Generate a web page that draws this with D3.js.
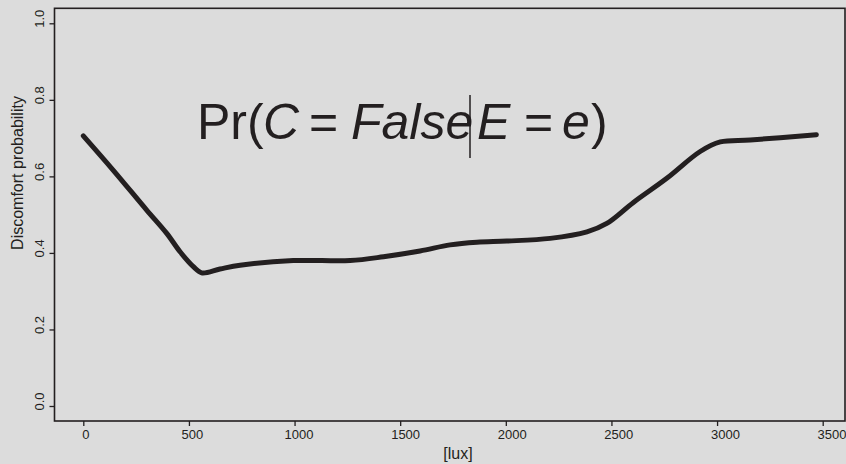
<!DOCTYPE html>
<html lang="en">
<head>
    <meta charset="utf-8">
    <title>Discomfort probability</title>
    <script src="https://d3js.org/d3.v7.min.js"></script>
    <style type="text/css">
        body { margin: 0; background: #dcdcdc; }
        text { font-family: "Liberation Sans", Arial, sans-serif; fill: #231f20; }
    </style>
</head>
<body>
<script type="text/javascript">
    // illuminance [lux] and discomfort probability
    var lux  = [0, 142, 300, 395, 458, 521, 560, 647, 742, 994, 1263, 1421, 1594, 1736, 1863,
                2005, 2210, 2384, 2478, 2604, 2762, 2920, 3015, 3157, 3470];
    var prob = [0.706, 0.616, 0.512, 0.451, 0.403, 0.364, 0.348, 0.358, 0.368, 0.380, 0.380, 0.390, 0.405, 0.421, 0.428,
                0.431, 0.438, 0.455, 0.477, 0.532, 0.595, 0.665, 0.690, 0.695, 0.709];
    var xTicks = [0, 500, 1000, 1500, 2000, 2500, 3000, 3500];
    var yTicks = [0, 0.2, 0.4, 0.6, 0.8, 1.0];

    var w = 846, h = 464;
    var ink = "#231f20";

    var svg = d3.select("body").append("svg")
        .attr("width", w)
        .attr("height", h);

    svg.append("rect").attr("width", w).attr("height", h).attr("fill", "#dcdcdc");

    var x = d3.scaleLinear().domain([0, 3500]).range([83.3, 822.7]);
    var y = d3.scaleLinear().domain([0, 1]).range([406, 23.3]);
    // tick labels sit on a slightly wider spacing than the ticks themselves
    var xLab = d3.scaleLinear().domain([0, 3500]).range([85.3, 831.5]);

    // plot frame
    svg.append("rect")
        .attr("x", 54.5).attr("y", 8.3)
        .attr("width", 845 - 54.5).attr("height", 421 - 8.3)
        .attr("fill", "none")
        .attr("stroke", ink)
        .attr("stroke-width", 1.6);

    // bottom axis
    var gx = svg.append("g")
        .attr("transform", "translate(0,421)")
        .call(d3.axisBottom(x).tickValues(xTicks).tickSize(5).tickPadding(4).tickFormat(d3.format("d")));
    gx.select(".domain").remove();
    gx.selectAll(".tick line").attr("stroke", ink).attr("stroke-width", 1.3);
    gx.selectAll(".tick text")
        .attr("x", function(d) { return xLab(d) - x(d); })
        .style("font-size", "13px")
        .attr("fill", ink);

    // left axis
    var gy = svg.append("g")
        .attr("transform", "translate(54.5,0)")
        .call(d3.axisLeft(y).tickValues(yTicks).tickSize(5).tickPadding(0).tickFormat(d3.format(".1f")));
    gy.select(".domain").remove();
    gy.selectAll(".tick line").attr("stroke", ink).attr("stroke-width", 1.3);
    gy.selectAll(".tick text")
        .attr("transform", "translate(-11,-5) rotate(-90)")
        .attr("x", 0).attr("y", 0).attr("dy", "0")
        .attr("text-anchor", "middle")
        .style("font-size", "13px")
        .attr("fill", ink);

    // axis titles
    svg.append("text")
        .attr("x", 458).attr("y", 459)
        .attr("text-anchor", "middle")
        .style("font-size", "16px")
        .text("[lux]");

    svg.append("text")
        .attr("transform", "translate(23,173) rotate(-90)")
        .attr("text-anchor", "middle")
        .style("font-size", "16px")
        .text("Discomfort probability");

    // curve
    var pts = lux.map(function(d, i) { return [d, prob[i]]; });
    var line = d3.line()
        .x(function(d) { return x(d[0]); })
        .y(function(d) { return y(d[1]); })
        .curve(d3.curveCatmullRom.alpha(0.5));
    svg.append("path")
        .datum(pts)
        .attr("d", line)
        .attr("fill", "none")
        .attr("stroke", ink)
        .attr("stroke-width", 5)
        .attr("stroke-linecap", "round")
        .attr("stroke-linejoin", "round");

    // formula  Pr(C = False | E = e)
    var parts = [
        { t: "Pr(", x: 197, it: false },
        { t: "C", x: 263, it: true },
        { t: "=", x: 309, it: false },
        { t: "False", x: 351, it: true },
        { t: "E", x: 477, it: true },
        { t: "=", x: 524, it: false },
        { t: "e", x: 562, it: true },
        { t: ")", x: 591, it: false }
    ];
    svg.selectAll("text.formula")
        .data(parts)
        .enter().append("text")
        .attr("class", "formula")
        .attr("x", function(d) { return d.x; })
        .attr("y", 139.3)
        .style("font-size", "50px")
        .style("font-style", function(d) { return d.it ? "italic" : "normal"; })
        .text(function(d) { return d.t; });
    svg.append("line")
        .attr("x1", 470).attr("x2", 470)
        .attr("y1", 95).attr("y2", 158)
        .attr("stroke", ink)
        .attr("stroke-width", 1.5);
</script>
</body>
</html>
